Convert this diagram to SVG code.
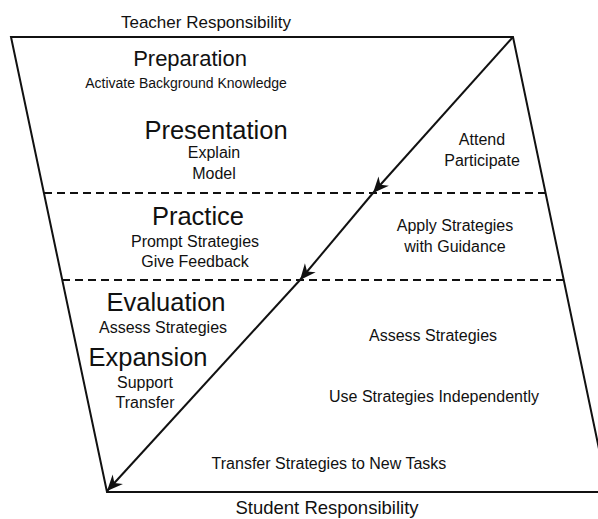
<svg xmlns="http://www.w3.org/2000/svg" width="598" height="519" viewBox="0 0 598 519">
<style>
text{font-family:"Liberation Sans",Arial,sans-serif;fill:#111;text-anchor:middle}
.h{font-size:25.5px}
.b{font-size:16px}
.frame{fill:none;stroke:#111;stroke-width:2}
.dash{stroke:#111;stroke-width:2;stroke-dasharray:8 5;fill:none}
.arrow{stroke:#111;stroke-width:2;fill:none;marker-end:url(#ah)}
</style>
<defs>
<marker id="ah" markerUnits="userSpaceOnUse" viewBox="-17 -8 18 16" refX="0" refY="0" markerWidth="18" markerHeight="16" orient="auto">
<path d="M0,0 L-16,-7 L-11,0 L-16,7 Z" fill="#111"/>
</marker>
</defs>
<rect width="598" height="519" fill="#fff"/>
<g id="frame">
<polygon class="frame" points="11,37 513,37 608,492 107,492"/>
<line class="dash" x1="44" y1="193" x2="546" y2="193"/>
<line class="dash" x1="62" y1="280" x2="564" y2="280"/>
</g>
<g id="connectors">
<path class="arrow" d="M513,37 L373,193"/>
<path class="arrow" d="M373,193 L300,280"/>
<path class="arrow" d="M300,280 L107,491"/>
</g>
<g id="teacher"><text x="206" y="28" style="font-size:17px">Teacher Responsibility</text></g>
<g id="student"><text x="327" y="514" style="font-size:18.5px">Student Responsibility</text></g>
<g id="preparation">
<text x="190" y="66" style="font-size:22px">Preparation</text>
<text x="186" y="88" style="font-size:14px">Activate Background Knowledge</text>
</g>
<g id="presentation">
<text class="h" x="216" y="139">Presentation</text>
<text class="b" x="214" y="158">Explain</text>
<text class="b" x="214" y="179">Model</text>
</g>
<g id="attend">
<text class="b" x="482" y="145">Attend</text>
<text class="b" x="482" y="166">Participate</text>
</g>
<g id="practice">
<text class="h" x="198" y="225">Practice</text>
<text class="b" x="195" y="247">Prompt Strategies</text>
<text class="b" x="195" y="267">Give Feedback</text>
</g>
<g id="apply">
<text class="b" x="455" y="231">Apply Strategies</text>
<text class="b" x="455" y="252">with Guidance</text>
</g>
<g id="evaluation">
<text class="h" x="166" y="311">Evaluation</text>
<text class="b" x="163" y="333">Assess Strategies</text>
</g>
<g id="expansion">
<text class="h" x="148" y="366">Expansion</text>
<text class="b" x="145" y="388">Support</text>
<text class="b" x="145" y="408">Transfer</text>
</g>
<g id="assess">
<text class="b" x="433" y="341">Assess Strategies</text>
</g>
<g id="independent">
<text class="b" x="434" y="402">Use Strategies Independently</text>
</g>
<g id="transfer">
<text class="b" x="329" y="469">Transfer Strategies to New Tasks</text>
</g>
</svg>
